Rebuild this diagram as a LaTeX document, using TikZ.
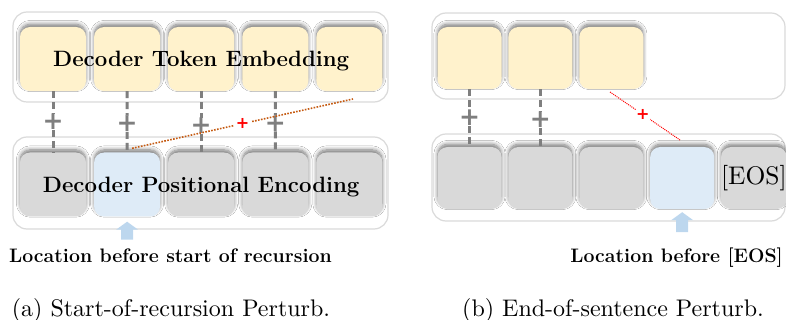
\documentclass[tikz,border=0pt]{standalone}
\usepackage{fontspec}
\usepackage{xcolor}
\usepackage{tikz}
\usetikzlibrary{
  positioning,
  calc,
  shadows.blur
}
\newfontfamily\signfont{DejaVu Sans}
\definecolor{tkToken}{HTML}{FFF2CC}
\definecolor{tkPos}{HTML}{D9D9D9}
\definecolor{tkLoc}{HTML}{DEEBF7}
\definecolor{tkArrow}{HTML}{BDD7EE}
\definecolor{tkAdd}{HTML}{7F7F7F}
\definecolor{tkFrame}{HTML}{DADADA}
\definecolor{tkOrange}{HTML}{C55A11}
\definecolor{tkRed}{HTML}{FF0000}
\tikzset{
  tile/.style={
    rounded corners=10pt, minimum width=66pt, minimum height=64pt, inner sep=0pt,
    blur shadow={shadow xshift=0pt, shadow yshift=3pt, shadow blur steps=8,
      shadow blur radius=4pt, shadow opacity=55, shadow scale=0.99}
  },
  toktile/.style={tile, fill=tkToken},
  postile/.style={tile, fill=tkPos},
  loctile/.style={tile, fill=tkLoc},
  panel/.style={draw=tkFrame, line width=1.2pt, rounded corners=14pt, fill=white},
  rowtitle/.style={font=\fontsize{22.2}{26}\selectfont\bfseries, inner sep=0pt, anchor=base},
  addline/.style={line width=3pt, tkAdd, dash pattern=on 7pt off 4pt},
  addsign/.style={font=\signfont\bfseries\fontsize{25}{25}\selectfont, text=tkAdd, inner sep=0pt},
  recline/.style={line width=1.6pt, tkOrange, dash pattern=on 1.6pt off 1.4pt},
  eosline/.style={line width=1pt, tkRed, dash pattern=on 1pt off 1pt},
  redsign/.style={font=\signfont\bfseries\fontsize{16}{16}\selectfont, text=tkRed, fill=white, inner sep=2pt},
  locarrow/.style={fill=tkArrow},
  loclabel/.style={font=\fontsize{19.5}{22}\selectfont\bfseries, inner sep=0pt},
  caption/.style={inner sep=0pt, anchor=base}
}

\begin{document}
\begin{tikzpicture}[x=1pt, y=-1pt]
  \useasboundingbox (0,0) rectangle (786,320);

  % ---- (a) start of recursion ----
  \draw[panel] (13,12) rectangle (388,102);
  \draw[panel] (13,137) rectangle (388,229);

  \node[toktile] (at1) at (53,59) {};
  \node[toktile, right=7.7pt of at1] (at2) {};
  \node[toktile, right=7.7pt of at2] (at3) {};
  \node[toktile, right=7.7pt of at3] (at4) {};
  \node[toktile, right=7.7pt of at4] (at5) {};
  \node[rowtitle] (atok) at ($(at1)!0.5!(at5)+(0,8)$) {Decoder Token Embedding};

  \node[postile] (ab1) at (53,184.5) {};
  \node[loctile, right=7.7pt of ab1] (ab2) {};
  \node[postile, right=7.7pt of ab2] (ab3) {};
  \node[postile, right=7.7pt of ab3] (ab4) {};
  \node[postile, right=7.7pt of ab4] (ab5) {};
  \node[rowtitle] (apos) at ($(ab1)!0.5!(ab5)+(0,8.5)$) {Decoder Positional Encoding};

  \node[addsign] (ap1) at ($(at1.south)!0.5!(ab1.north)$) {+};
  \node[addsign] (ap2) at ($(at2.south)!0.5!(ab2.north)+(0,2)$) {+};
  \node[addsign] (ap3) at ($(at3.south)!0.5!(ab3.north)+(0,4)$) {+};
  \node[addsign] (ap4) at ($(at4.south)!0.5!(ab4.north)+(0,1.5)$) {+};
  \draw[addline] (at1.south) -- (ap1.north) (ap1.south) -- (ab1.north);
  \draw[addline] (at2.south) -- (ap2.north) (ap2.south) -- (ab2.north);
  \draw[addline] (at3.south) -- (ap3.north) (ap3.south) -- (ab3.north);
  \draw[addline] (at4.south) -- (ap4.north) (ap4.south) -- (ab4.north);

  \coordinate (astart) at ($(ab2.north)+(5,-4)$);
  \coordinate (aend) at (353,99);
  \draw[recline] (astart) -- node[redsign] (ared) {+} (aend);

  \fill[locarrow] ($(ab2.south)+(0,5)$) -- ++(11,8) -- ++(-5,0) -- ++(0,10)
    -- ++(-12,0) -- ++(0,-10) -- ++(-5,0) -- cycle;
  \node[loclabel, anchor=base west] (alab) at (9,262) {Location before start of recursion};
  \node[caption] (acap) at (171,316) {\scalebox{2.4}{(a) Start-of-recursion Perturb.}};

  % ---- (b) end of sentence ----
  \draw[panel] (432,13) rectangle (785,99);
  \draw[panel] (432,134) rectangle (785,221);

  \node[toktile, minimum width=64pt, minimum height=62pt] (bt1) at (469.5,58) {};
  \node[toktile, minimum width=64pt, minimum height=62pt, right=6.5pt of bt1] (bt2) {};
  \node[toktile, minimum width=64pt, minimum height=62pt, right=6.5pt of bt2] (bt3) {};

  \node[postile, minimum width=64pt, minimum height=62pt] (bb1) at (469.5,178) {};
  \node[postile, minimum width=64pt, minimum height=62pt, right=6.5pt of bb1] (bb2) {};
  \node[postile, minimum width=64pt, minimum height=62pt, right=6.5pt of bb2] (bb3) {};
  \node[loctile, minimum width=64pt, minimum height=62pt, right=6.5pt of bb3] (bb4) {};
  \node[postile, minimum width=64pt, minimum height=62pt, right=6.5pt of bb4] (bb5)
    {\scalebox{2.55}{[EOS]}};

  \node[addsign] (bp1) at ($(bt1.south)!0.5!(bb1.north)$) {+};
  \node[addsign] (bp2) at ($(bt2.south)!0.5!(bb2.north)+(0,2)$) {+};
  \draw[addline] (bt1.south) -- (bp1.north) (bp1.south) -- (bb1.north);
  \draw[addline] (bt2.south) -- (bp2.north) (bp2.south) -- (bb2.north);

  \coordinate (bstart) at (610,92);
  \coordinate (bend) at (680,140);
  \draw[eosline] (bstart) -- node[redsign, inner sep=0.5pt, pos=0.47] (bred) {+} (bend);

  \fill[locarrow] ($(bb4.south)+(0,3)$) -- ++(11,8) -- ++(-5,0) -- ++(0,12)
    -- ++(-12,0) -- ++(0,-12) -- ++(-5,0) -- cycle;
  \node[loclabel, anchor=base east] (blab) at (783,262) {Location before [EOS]};
  \node[caption] (bcap) at (613,316) {\scalebox{2.4}{(b) End-of-sentence Perturb.}};
\end{tikzpicture}
\end{document}
